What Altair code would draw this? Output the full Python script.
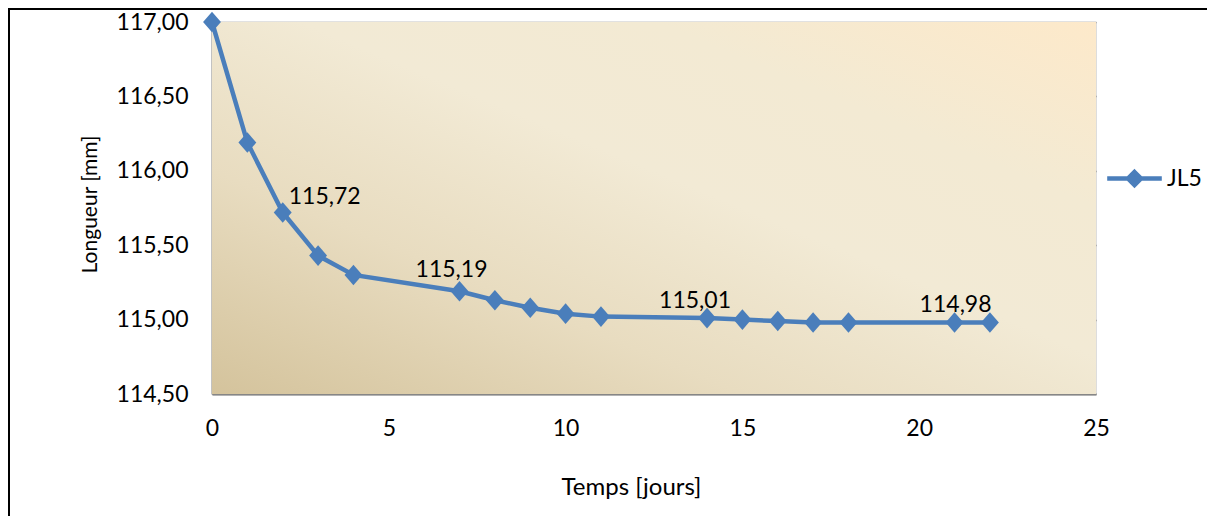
import altair as alt
import pandas as pd

# Data
jours = [0, 1, 2, 3, 4, 7, 8, 9, 10, 11, 14, 15, 16, 17, 18, 21, 22]
longueur = [117.00, 116.19, 115.72, 115.43, 115.30, 115.19, 115.13, 115.08,
            115.04, 115.02, 115.01, 115.00, 114.99, 114.98, 114.98, 114.98, 114.98]
serie = "JL5"
labelled_days = [2, 7, 14, 21]
x_ticks = [0, 5, 10, 15, 20, 25]
y_ticks = [114.5, 115.0, 115.5, 116.0, 116.5, 117.0]

df = pd.DataFrame({"jours": jours, "longueur": longueur, "serie": [serie] * len(jours)})

W, H = 884, 372
FONT = "Lato"
BLUE = "#4a7ebb"
GRID = "#868686"
FS = 23

fmt = "replace(format(datum.value, '.2f'), '.', ',')"

xscale = alt.Scale(domain=[0, 25], nice=False, zero=False)
yscale = alt.Scale(domain=[114.5, 117], nice=False, zero=False)

base = alt.Chart(df)

background = alt.Chart(pd.DataFrame({"a": [0]})).mark_rect(
    color=alt.LinearGradient(
        gradient="linear", x1=0, y1=1, x2=1, y2=0,
        stops=[
            alt.GradientStop(color="#d4c39c", offset=0),
            alt.GradientStop(color="#e8dcc0", offset=0.3),
            alt.GradientStop(color="#f2ead5", offset=0.55),
            alt.GradientStop(color="#f3ead3", offset=0.75),
            alt.GradientStop(color="#fde9ca", offset=1),
        ],
    )
).encode(x=alt.value(0), x2=alt.value(W), y=alt.value(0), y2=alt.value(H))

border = alt.Chart(pd.DataFrame({"a": [0]})).mark_rect(
    fill="transparent", stroke="black", strokeWidth=2
).encode(x=alt.value(-203), x2=alt.value(1500), y=alt.value(-13), y2=alt.value(800))

x_enc = alt.X("jours:Q", scale=xscale, title="Temps [jours]",
              axis=alt.Axis(values=x_ticks, grid=False, ticks=False, tickSize=0,
                            domainColor=GRID, domainWidth=2, labelPadding=23,
                            labelFontSize=FS, labelFont=FONT, labelColor="black",
                            titleFont=FONT, titleFontSize=24, titleFontWeight="normal",
                            titleColor="black", titleX=419, titleY=93,
                            titleBaseline="middle", titleAlign="center", labelFlush=False))
y_enc = alt.Y("longueur:Q", scale=yscale, title="Longueur [mm]",
              axis=alt.Axis(values=y_ticks, grid=True, gridColor=GRID, gridWidth=1.5,
                            ticks=False, tickSize=0, domainColor=GRID, domainWidth=2,
                            labelPadding=24, labelFontSize=FS, labelFont=FONT,
                            labelColor="black", labelExpr=fmt,
                            titleFont=FONT, titleFontSize=21, titleFontWeight="normal",
                            titleColor="black", titleX=-122, titleY=182,
                            titleBaseline="middle", titleAlign="center", labelFlush=False))

line = base.mark_line(color=BLUE, strokeWidth=4.5, clip=False).encode(x=x_enc, y=y_enc)

points = base.mark_point(
    shape="M0,-1.15L1,0L0,1.15L-1,0Z", filled=True, size=320, opacity=1, clip=False
).encode(
    x="jours:Q", y="longueur:Q",
    color=alt.Color("serie:N", scale=alt.Scale(range=[BLUE]), title=None,
                    legend=alt.Legend(orient="none", legendX=911, legendY=145,
                                      symbolType="M-4.2,0L4.2,0M0,-1L1,0L0,1L-1,0Z",
                                      symbolSize=169, symbolStrokeWidth=4.5,
                                      symbolStrokeColor=BLUE, symbolFillColor=BLUE,
                                      labelFont=FONT, labelFontSize=FS,
                                      labelColor="black", labelOffset=21, padding=0)),
)

label_txt = base.transform_calculate(
    lab="replace(format(datum.longueur, '.2f'), '.', ',')"
)

def label_layer(day, dx, dy, align):
    return label_txt.transform_filter(alt.datum.jours == day).mark_text(
        font=FONT, fontSize=FS, color="black", dx=dx, dy=dy, align=align,
        baseline="middle", clip=False
    ).encode(x="jours:Q", y="longueur:Q", text="lab:N")

offsets = {2: (6, -15, "left"), 7: (-8, -21, "center"),
           14: (-12, -17, "center"), 21: (1, -18, "center")}
labels = [label_layer(d, *offsets[d]) for d in labelled_days]

chart = alt.layer(border, background, line, points, *labels).properties(
    width=W, height=H,
    autosize=alt.AutoSizeParams(type="none"),
    padding={"left": 204, "top": 14, "right": 111, "bottom": 122},
).configure_view(stroke=None).configure(background="white")

chart.save("out.html", embed_options={"renderer": "svg", "actions": False})
